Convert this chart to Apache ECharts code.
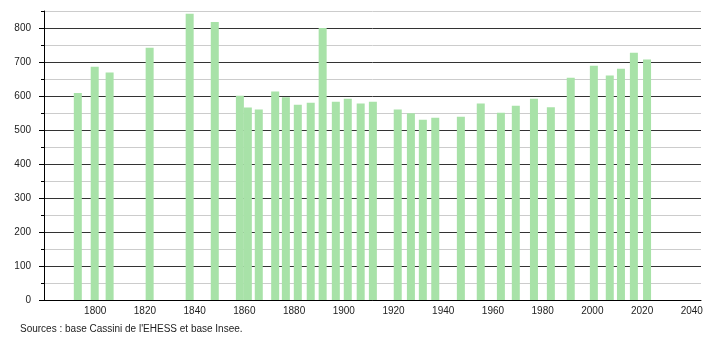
<!DOCTYPE html>
<html>
<head>
<meta charset="utf-8">
<script src="https://cdn.jsdelivr.net/npm/echarts@6/dist/echarts.min.js"></script>
<style>
html,body{margin:0;padding:0;background:#fff;}
#chart{width:710px;height:340px;}
</style>
</head>
<body>
<div id="chart"></div>
<script>
// Bar positions (years as they appear on the time axis) and population values
var years = [1793.0, 1799.8, 1805.8, 1821.9, 1838.0, 1848.1, 1858.2, 1861.4, 1865.8, 1872.4,
             1876.7, 1881.5, 1886.7, 1891.5, 1896.8, 1901.6, 1906.8, 1911.7, 1921.7, 1927.0,
             1931.8, 1936.8, 1947.1, 1955.1, 1963.2, 1969.2, 1976.5, 1983.3, 1991.3, 2000.6,
             2007.0, 2011.5, 2016.7, 2022.0];
var population = [609, 686, 669, 742, 842, 818, 601, 566, 560, 613,
                  596, 574, 580, 800, 583, 592, 578, 583, 560, 549,
                  530, 536, 539, 578, 551, 571, 592, 567, 654, 689,
                  660, 680, 727, 707];
var xTickLabels = [1800, 1820, 1840, 1860, 1880, 1900, 1920, 1940, 1960, 1980, 2000, 2020, 2040];
var yTickLabels = [0, 100, 200, 300, 400, 500, 600, 700, 800];
var sourceText = "Sources : base Cassini de l'EHESS et base Insee.";

var pairs = years.map(function (y, i) { return [y, population[i]]; });
var font = 'Liberation Sans, Arial, sans-serif';

var chart = echarts.init(document.getElementById('chart'), null, {renderer: 'canvas'});
chart.setOption({
  animation: false,
  backgroundColor: '#ffffff',
  grid: {left: 44, right: 9, top: 11, bottom: 40, containLabel: false},
  xAxis: {
    type: 'value',
    min: 1779.4,
    max: 2043.7,
    axisLine: {show: true, lineStyle: {color: '#000', width: 1}},
    axisTick: {show: false},
    splitLine: {show: false},
    axisLabel: {
      customValues: xTickLabels,
      formatter: function (v) { return String(Math.round(v)); },
      color: '#222', fontSize: 10, fontFamily: font, margin: 6
    }
  },
  yAxis: [{
    type: 'value',
    position: 'left',
    min: 0, max: 850, interval: 50,
    axisLine: {show: true, lineStyle: {color: '#000', width: 1}},
    axisTick: {show: true, length: 3, lineStyle: {color: '#000'}},
    axisLabel: {
      formatter: function (v) { return (v % 100 === 0) ? String(v) : ''; },
      color: '#222', fontSize: 10, fontFamily: font, margin: 13
    },
    splitLine: {show: true, lineStyle: {color: ['#333333', '#cccccc'], width: 1}}
  }, {
    type: 'value',
    position: 'left',
    offset: 0,
    min: 0, max: 850, interval: 50,
    axisLine: {show: false},
    axisTick: {show: true, customValues: yTickLabels, length: 5, lineStyle: {color: '#000'}},
    axisLabel: {show: false},
    splitLine: {show: false}
  }],
  graphic: [{
    type: 'text',
    left: 20, top: 324,
    style: {text: sourceText, fill: '#222', font: '10px ' + font}
  }],
  series: [{
    type: 'bar',
    yAxisIndex: 0,
    data: pairs,
    barWidth: 8,
    itemStyle: {color: '#a8e2a8'},
    z: 3
  }]
});
</script>
</body>
</html>
